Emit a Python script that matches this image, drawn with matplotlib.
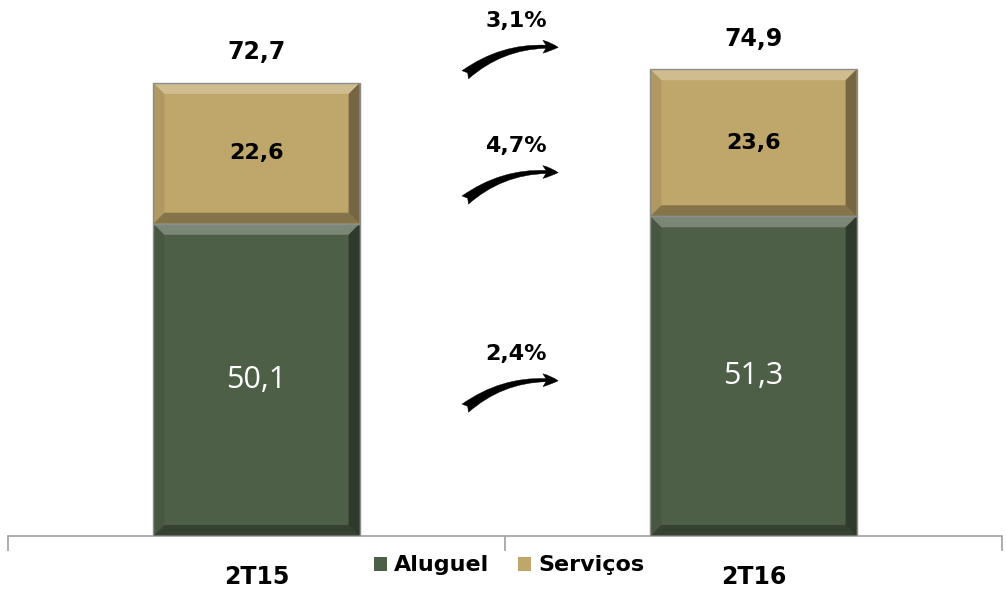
import matplotlib
matplotlib.use("Agg")
import matplotlib.pyplot as plt
from matplotlib.patches import Polygon
import numpy as np

categories = ["2T15", "2T16"]
aluguel = [50.1, 51.3]
servicos = [22.6, 23.6]
totals = [72.7, 74.9]
growth_labels = ["2,4%", "4,7%", "3,1%"]  # aluguel, serviços, total

green = "#4E5F47"
tan = "#BFA66A"

plt.rcParams['font.family'] = ['DejaVu Sans']

fig = plt.figure(figsize=(10.06, 5.91), dpi=100)
ax = fig.add_axes([8/1006, 55/591, 994/1006, 536/591])
YMAX = 86.0
ax.set_xlim(-0.5, 1.5)
ax.set_ylim(0, YMAX)

x = np.arange(len(categories))
w = 0.415
b1 = ax.bar(x, aluguel, w, color=green, zorder=2, label="Aluguel")
b2 = ax.bar(x, servicos, w, bottom=aluguel, color=tan, zorder=2, label="Serviços")

# bevel effect
dx = 11 / 497.0
dy = 11 / (536.0 / YMAX)
def bevel(rect):
    x0, y0 = rect.get_x(), rect.get_y()
    x1, y1 = x0 + rect.get_width(), y0 + rect.get_height()
    polys = [
        ([(x0, y1), (x1, y1), (x1 - dx, y1 - dy), (x0 + dx, y1 - dy)], "white", 0.25),
        ([(x0, y0), (x1, y0), (x1 - dx, y0 + dy), (x0 + dx, y0 + dy)], "black", 0.30),
        ([(x1, y0), (x1, y1), (x1 - dx, y1 - dy), (x1 - dx, y0 + dy)], "black", 0.38),
        ([(x0, y0), (x0, y1), (x0 + dx, y1 - dy), (x0 + dx, y0 + dy)], "black", 0.08),
    ]
    for pts, c, a in polys:
        ax.add_patch(Polygon(pts, closed=True, facecolor=c, alpha=a, edgecolor="none", zorder=3))
    ax.add_patch(plt.Rectangle((x0, y0), x1 - x0, y1 - y0, fill=False,
                               edgecolor="#8C8C8C", lw=1.0, zorder=4))
for r in list(b1) + list(b2):
    bevel(r)

def fmt(v):
    return f"{v:.1f}".replace(".", ",")

# labels
for i in range(len(categories)):
    ax.text(x[i], aluguel[i] / 2, fmt(aluguel[i]), ha="center", va="center",
            color="white", fontsize=22, family="Open Sans", zorder=5)
    ax.text(x[i], aluguel[i] + servicos[i] / 2, fmt(servicos[i]), ha="center",
            va="center", color="black", fontsize=16, fontweight="bold", zorder=5)
    ax.text(x[i], totals[i] + 4.9, fmt(totals[i]), ha="center", va="center",
            color="black", fontsize=17, fontweight="bold", zorder=5)

# growth arrows (start y, in data units)
arrow_start = [20.5, 53.9, 74.0]
for yv, lab in zip(arrow_start, growth_labels):
    ax.annotate("", xy=(0.607, yv + 4.4), xytext=(0.42, yv),
                arrowprops=dict(arrowstyle="fancy,head_length=0.5,head_width=0.42,tail_width=0.34",
                                connectionstyle="arc3,rad=-0.2", color="black", lw=0.3,
                                mutation_scale=22, shrinkA=0, shrinkB=0),
                zorder=5)
    ax.text(0.522, yv + 8.7, lab, ha="center", va="center", fontsize=16,
            fontweight="bold", color="black", zorder=5)

# axis styling
for s in ["top", "right", "left"]:
    ax.spines[s].set_visible(False)
ax.spines["bottom"].set_color("#A0A0A0")
ax.spines["bottom"].set_linewidth(1.2)
ax.set_yticks([])
ax.set_xticks([-0.5, 0.5, 1.5])
ax.set_xticklabels([])
ax.tick_params(axis="x", direction="out", length=11, color="#A0A0A0", width=1.2)
ax.set_xticks(x, minor=True)
ax.set_xticklabels(categories, minor=True, fontsize=17, fontweight="bold")
ax.tick_params(axis="x", which="minor", length=0, pad=21)

leg = ax.legend(loc="center", bbox_to_anchor=(0.504, -0.055), ncol=2, frameon=False,
                handlelength=0.6, handleheight=0.6, handletextpad=0.3, columnspacing=1.3,
                prop=dict(size=16, weight="bold"))

fig.savefig("out.png", dpi=100)
